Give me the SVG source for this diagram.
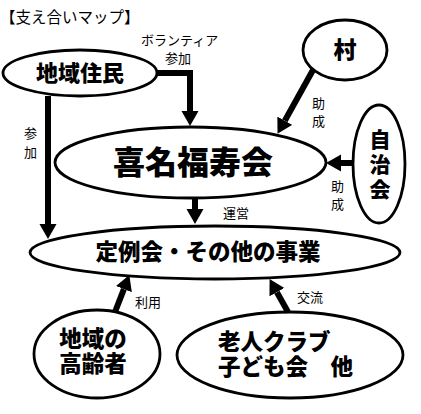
<svg xmlns="http://www.w3.org/2000/svg" width="421" height="414" viewBox="0 0 421 414">
<defs>
<style>
.node ellipse{fill:#fff;stroke:#000;stroke-width:2.8}
.nt{font-family:"Noto Sans CJK JP","Noto Sans CJK SC",sans-serif;font-weight:900;fill:#000;text-anchor:middle}
.lb{font-family:"Noto Sans CJK JP","Noto Sans CJK SC",sans-serif;font-size:13px;fill:#000}
.conn path{fill:none;stroke:#000;stroke-width:6;marker-end:url(#ah)}
</style>
<marker id="ah" markerUnits="userSpaceOnUse" markerWidth="16" markerHeight="18" viewBox="0 -9 16 18" refX="0" refY="0" orient="auto">
<path d="M0,-8.5 L15,0 L0,8.5 z" fill="#000"/>
</marker>
</defs>
<rect width="421" height="414" fill="#fff"/>
<text x="0" y="23" style="font-family:'Noto Sans CJK JP',sans-serif;font-size:15.5px">【支え合いマップ】</text>

<g id="n-residents" class="node"><ellipse cx="80" cy="73" rx="77" ry="23"/><text class="nt" x="80" y="81" font-size="22">地域住民</text></g>
<g id="n-village" class="node"><ellipse cx="345" cy="50" rx="42" ry="30"/><text class="nt" x="345" y="58" font-size="23">村</text></g>
<g id="n-kinafuku" class="node"><ellipse cx="190.5" cy="162.5" rx="135.5" ry="35.5"/><text class="nt" x="193" y="174" font-size="32">喜名福寿会</text></g>
<g id="n-jichikai" class="node"><ellipse cx="379" cy="164" rx="26" ry="59"/><text class="nt" x="380" y="147" font-size="21">自</text><text class="nt" x="380" y="172" font-size="21">治</text><text class="nt" x="380" y="197" font-size="21">会</text></g>
<g id="n-events" class="node"><ellipse cx="215" cy="252.5" rx="185" ry="26.5"/><text class="nt" x="208" y="260" font-size="22.5">定例会・その他の事業</text></g>
<g id="n-elderly" class="node"><ellipse cx="97" cy="354" rx="63" ry="44"/><text class="nt" x="93" y="347" font-size="22.5">地域の</text><text class="nt" x="93" y="372" font-size="22.5">高齢者</text></g>
<g id="n-clubs" class="node"><ellipse cx="290" cy="355" rx="113" ry="43"/><text class="nt" x="274" y="350" font-size="22.5" text-anchor="start" style="text-anchor:start" dx="-56">老人クラブ</text><text class="nt" x="218" y="375" font-size="22.5" style="text-anchor:start">子ども会　他</text></g>

<g id="connectors" class="conn">
<path d="M157,73 H190 V111"/>
<path d="M48,96 V224"/>
<path d="M313,70 L284.8,120.75"/>
<path d="M353,163 H341"/>
<path d="M195,198 V209"/>
<path d="M115,312 L123.9,289.1"/>
<path d="M288,312 L276.9,292.2"/>
</g>

<g id="labels">
<text class="lb" x="141" y="45">ボランティア</text>
<text class="lb" x="165" y="63">参加</text>
<text class="lb" x="24" y="138">参</text>
<text class="lb" x="24" y="157">加</text>
<text class="lb" x="312" y="108">助</text>
<text class="lb" x="312" y="126">成</text>
<text class="lb" x="331" y="191">助</text>
<text class="lb" x="331" y="209">成</text>
<text class="lb" x="223" y="218">運営</text>
<text class="lb" x="135" y="307">利用</text>
<text class="lb" x="297" y="302">交流</text>
</g>
</svg>
